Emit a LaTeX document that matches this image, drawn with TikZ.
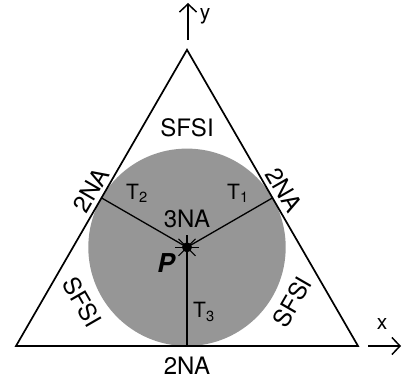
\documentclass[tikz,border=0pt]{standalone}
\usepackage{fontspec}
\setmainfont{TeX Gyre Heros}
\usetikzlibrary{arrows.meta, calc}
\definecolor{diskgray}{RGB}{150, 150, 150}

\tikzset{
  edge/.style={line width=1.7pt, black},
  ray/.style={line width=1.1pt, black},
  axis/.style={line width=1.5pt, -{Straight Barb[length=8pt, width=17pt, line width=1.5pt]}},
  region/.style={inner sep=0pt, font=\fontsize{24}{26}\selectfont},
  tlabel/.style={inner sep=0pt, font=\fontsize{21}{23}\selectfont},
}

\begin{document}
\begin{tikzpicture}[x=1pt, y=-1pt]
  \useasboundingbox (0,0) rectangle (402,382);

  % corners of the triangle and the point P
  \coordinate (left) at (16,346);
  \coordinate (right) at (358,346);
  \coordinate (top) at (187,49.8);
  \coordinate (P) at (187,247.3);
  \coordinate (foot1) at ($(top)!0.5!(right)$);
  \coordinate (foot2) at ($(top)!0.5!(left)$);
  \coordinate (foot3) at ($(left)!0.5!(right)$);

  % inscribed disk
  \fill[diskgray] (P) circle (98.7);

  % lines from P to the sides
  \draw[edge, line width=1.3pt] (P) -- (foot1);
  \draw[edge, line width=1.3pt] (P) -- (foot2);
  \draw[edge, line width=1.3pt] (P) -- (foot3);
  \foreach \a in {0,45,...,315}
    \draw[ray] (P) -- ++(\a:12);
  \fill (P) circle (5);

  \draw[edge, line join=miter] (left) -- (right) -- (top) -- cycle;

  % axes
  \coordinate (xs) at (368,346);
  \coordinate (xe) at (401,346);
  \coordinate (ys) at (188,40);
  \coordinate (ye) at (188,3);
  \draw[axis] (xs) -- (xe);
  \draw[axis] (ys) -- (ye);
  \node[tlabel] (xlab) at (382,324) {x};
  \node[tlabel] (ylab) at (205,16) {y};

  % regions
  \node[region] (sfsiT) at (187,128) {SFSI};
  \node[region] (sfsiL) at (82,302) [rotate=-60] {SFSI};
  \node[region] (sfsiR) at (292,302) [rotate=60] {SFSI};
  \node[region] (naL) at (91,190) [rotate=60] {2NA};
  \node[region] (naR) at (284,190) [rotate=-60] {2NA};
  \node[region] (naB) at (187,366) {2NA};
  \node[region] (naC) at (187,219) {3NA};
  \node[inner sep=0pt, font=\fontsize{26}{28}\selectfont\bfseries\itshape] (plab) at (166,263) {P};

  \node[tlabel] (t1) at (238,193) {T\textsubscript{1}};
  \node[tlabel] (t2) at (137,193) {T\textsubscript{2}};
  \node[tlabel] (t3) at (204,312) {T\textsubscript{3}};
\end{tikzpicture}
\end{document}
